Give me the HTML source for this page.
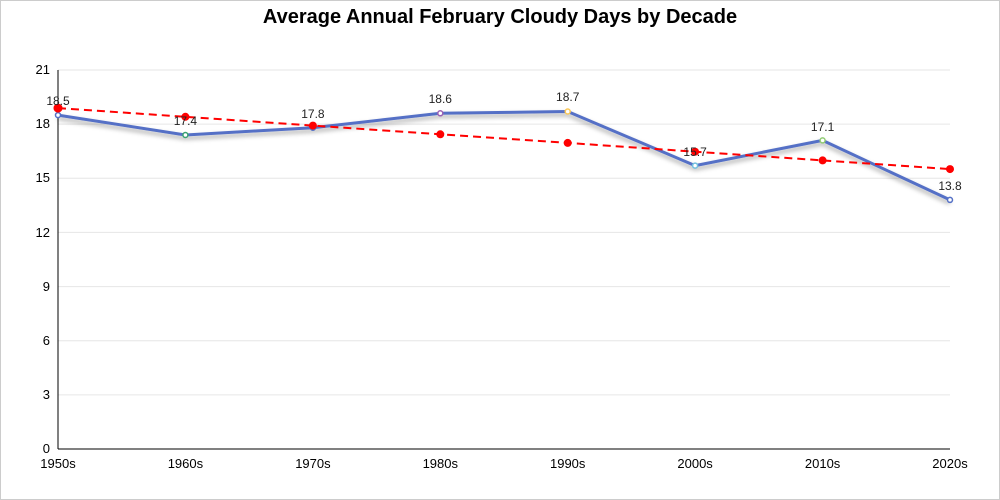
<!DOCTYPE html>
<html><head><style>
body{margin:0;background:#fff;}
svg{display:block;font-family:"Liberation Sans",sans-serif;}
</style></head><body>
<svg width="1000" height="500" viewBox="0 0 1000 500">
<rect x="0.5" y="0.5" width="999" height="499" fill="#fff" stroke="#ccc"/>
<text x="500" y="23" text-anchor="middle" font-size="20" font-weight="bold" fill="#000">Average Annual February Cloudy Days by Decade</text>
<defs><filter id="sh" x="-10%" y="-50%" width="120%" height="200%"><feDropShadow dx="0" dy="3" stdDeviation="2.5" flood-color="#000" flood-opacity="0.35"/></filter></defs>
<g stroke="#e6e6e6" stroke-width="1">
<line x1="58" x2="950" y1="70" y2="70"/><line x1="58" x2="950" y1="124.1" y2="124.1"/><line x1="58" x2="950" y1="178.3" y2="178.3"/><line x1="58" x2="950" y1="232.4" y2="232.4"/><line x1="58" x2="950" y1="286.6" y2="286.6"/><line x1="58" x2="950" y1="340.7" y2="340.7"/><line x1="58" x2="950" y1="394.9" y2="394.9"/>
</g>
<line x1="58" x2="58" y1="70" y2="449" stroke="#000"/>
<line x1="58" x2="950" y1="449" y2="449" stroke="#000"/>
<g font-size="13" fill="#000" text-anchor="end">
<text x="50" y="74">21</text><text x="50" y="128">18</text><text x="50" y="182">15</text><text x="50" y="237">12</text><text x="50" y="291">9</text><text x="50" y="345">6</text><text x="50" y="399">3</text><text x="50" y="453">0</text>
</g>
<g font-size="13" fill="#000" text-anchor="middle">
<text x="58" y="468">1950s</text><text x="185.4" y="468">1960s</text><text x="312.9" y="468">1970s</text><text x="440.3" y="468">1980s</text><text x="567.7" y="468">1990s</text><text x="695.1" y="468">2000s</text><text x="822.6" y="468">2010s</text><text x="950" y="468">2020s</text>
</g>
<polyline filter="url(#sh)" fill="none" stroke="#5470c6" stroke-width="3" stroke-linejoin="round" points="58,115.1 185.4,135 312.9,127.7 440.3,113.3 567.7,111.5 695.1,165.6 822.6,140.4 950,199.9"/>
<g stroke-width="1.5" fill="#fff">
<circle cx="58" cy="115.1" r="2.5" stroke="#5470c6"/><circle cx="185.4" cy="135" r="2.5" stroke="#3ba272"/><circle cx="312.9" cy="127.7" r="2.5" stroke="#5470c6"/><circle cx="440.3" cy="113.3" r="2.5" stroke="#9a60b4"/><circle cx="567.7" cy="111.5" r="2.5" stroke="#fac858"/><circle cx="695.1" cy="165.6" r="2.5" stroke="#73c0de"/><circle cx="822.6" cy="140.4" r="2.5" stroke="#91cc75"/><circle cx="950" cy="199.9" r="2.5" stroke="#5470c6"/>
</g>
<polyline fill="none" stroke="#f00" stroke-width="2" stroke-dasharray="8,5" points="58,108.1 185.4,116.8 312.9,125.6 440.3,134.3 567.7,142.9 695.1,151.7 822.6,160.4 950,169.1"/>
<g fill="#f00">
<circle cx="58" cy="108.1" r="4.5"/><circle cx="185.4" cy="116.8" r="4"/><circle cx="312.9" cy="125.6" r="4"/><circle cx="440.3" cy="134.3" r="4"/><circle cx="567.7" cy="142.9" r="4"/><circle cx="695.1" cy="151.7" r="4"/><circle cx="822.6" cy="160.4" r="4"/><circle cx="950" cy="169.1" r="4"/>
</g>
<g font-size="12" fill="#222" text-anchor="middle">
<text x="58" y="105">18.5</text><text x="185.4" y="125">17.4</text><text x="312.9" y="118">17.8</text><text x="440.3" y="103">18.6</text><text x="567.7" y="101">18.7</text><text x="695.1" y="156">15.7</text><text x="822.6" y="131">17.1</text><text x="950" y="190">13.8</text>
</g>
</svg>
</body></html>
